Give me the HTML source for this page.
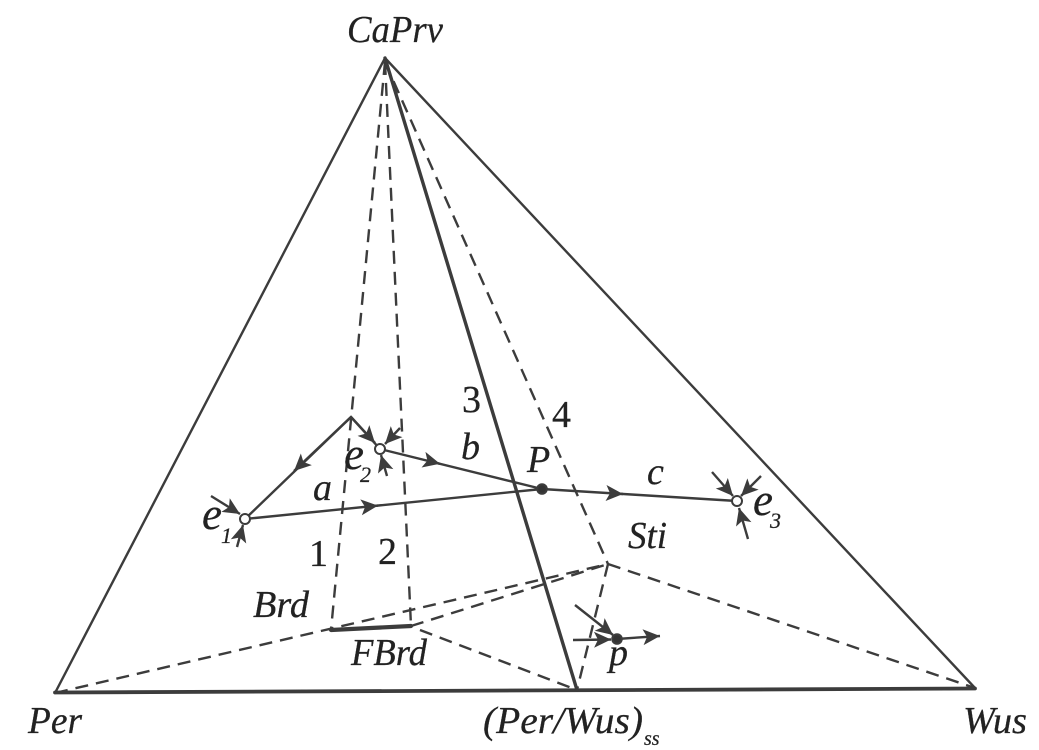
<!DOCTYPE html>
<html>
<head>
<meta charset="utf-8">
<style>
html,body{margin:0;padding:0;background:#fff;}
svg{display:block;filter:blur(0.35px);}
text{font-family:"Liberation Serif",serif;fill:#222;stroke:#222;stroke-width:0.25px;}
.i{font-style:italic;font-size:38px;}
.e{font-style:italic;font-size:45px;}
.n{font-size:38px;}
.s{font-style:italic;font-size:22px;}
</style>
</head>
<body>
<svg width="1039" height="750" viewBox="0 0 1039 750" xmlns="http://www.w3.org/2000/svg">
<defs>
<marker id="a" markerUnits="userSpaceOnUse" markerWidth="24" markerHeight="20" viewBox="-20 -10 24 20" refX="0" refY="0" orient="auto">
<path d="M0,0 L-17,-8 L-13,0 L-17,8 Z" fill="#3c3c3c"/>
</marker>
</defs>

<!-- solid outline -->
<g fill="none" stroke="#3c3c3c" stroke-linecap="round">
<line x1="385" y1="58" x2="55" y2="693" stroke-width="2.4"/>
<line x1="385" y1="58" x2="975" y2="688" stroke-width="2.4"/>
<line x1="55" y1="692.5" x2="975" y2="688.5" stroke-width="3.8"/>
<line x1="385" y1="58" x2="577" y2="690" stroke-width="3.4"/>
<line x1="331" y1="630" x2="411" y2="626" stroke-width="4.2"/>
</g>

<!-- dashed -->
<g fill="none" stroke="#3c3c3c" stroke-width="2.4" stroke-dasharray="13 8">
<line x1="385" y1="62" x2="331" y2="630"/>
<line x1="385" y1="62" x2="411" y2="626"/>
<line x1="385" y1="62" x2="608" y2="564"/>
<line x1="55" y1="693" x2="608" y2="564"/>
<line x1="411" y1="626" x2="608" y2="564"/>
<line x1="420" y1="630" x2="577" y2="690"/>
<line x1="608" y1="564" x2="577" y2="690"/>
<line x1="608" y1="564" x2="975" y2="688"/>
</g>

<!-- path lines -->
<g fill="none" stroke="#3c3c3c" stroke-width="2.4">
<polyline points="245,519 351,417 380,449"/>
<line x1="245" y1="519" x2="542" y2="489"/>
<line x1="380" y1="449" x2="542" y2="489"/>
<line x1="542" y1="489" x2="737" y2="501"/>
<line x1="351" y1="417" x2="294" y2="471" marker-end="url(#a)"/>
<line x1="351" y1="417" x2="375" y2="443" marker-end="url(#a)"/>
<line x1="368" y1="506.6" x2="378" y2="505.6" marker-end="url(#a)"/>
<line x1="430" y1="461.3" x2="440" y2="463.8" marker-end="url(#a)"/>
<line x1="613" y1="493.4" x2="623" y2="494" marker-end="url(#a)"/>
<line x1="211" y1="496" x2="240" y2="514" marker-end="url(#a)"/>
<line x1="237" y1="547" x2="243" y2="525" marker-end="url(#a)"/>
<line x1="400" y1="428" x2="385" y2="444" marker-end="url(#a)"/>
<line x1="387" y1="476" x2="381" y2="455" marker-end="url(#a)"/>
<line x1="712" y1="472" x2="733" y2="496" marker-end="url(#a)"/>
<line x1="761" y1="476" x2="741" y2="496" marker-end="url(#a)"/>
<line x1="748" y1="539" x2="739" y2="508" marker-end="url(#a)"/>
<line x1="575" y1="605" x2="613" y2="635" marker-end="url(#a)"/>
<line x1="573" y1="640" x2="611" y2="639.5" marker-end="url(#a)"/>
<line x1="617" y1="639" x2="660" y2="636" marker-end="url(#a)"/>
</g>

<!-- points -->
<g stroke="#3c3c3c" stroke-width="2">
<circle cx="245" cy="519" r="5" fill="#fff"/>
<circle cx="380" cy="449" r="5" fill="#fff"/>
<circle cx="737" cy="501" r="5" fill="#fff"/>
<circle cx="542" cy="489" r="4.8" fill="#333"/>
<circle cx="617" cy="639" r="4.8" fill="#333"/>
</g>

<!-- labels -->
<text class="i" x="347" y="42" textLength="96" lengthAdjust="spacingAndGlyphs">CaPrv</text>
<text class="i" x="28" y="733" textLength="54" lengthAdjust="spacingAndGlyphs">Per</text>
<text class="i" x="483" y="733" textLength="160" lengthAdjust="spacingAndGlyphs">(Per/Wus)</text>
<text class="s" x="644" y="745" style="font-size:20px">ss</text>
<text class="i" x="963" y="733" textLength="64" lengthAdjust="spacingAndGlyphs">Wus</text>
<text class="i" x="253" y="617" textLength="56" lengthAdjust="spacingAndGlyphs">Brd</text>
<text class="i" x="351" y="665" textLength="76" lengthAdjust="spacingAndGlyphs">FBrd</text>
<text class="i" x="609" y="665">p</text>
<text class="i" x="628" y="548" textLength="39" lengthAdjust="spacingAndGlyphs">Sti</text>
<text class="i" x="527" y="472">P</text>
<text class="i" x="647" y="484">c</text>
<text class="i" x="461" y="459">b</text>
<text class="i" x="313" y="500">a</text>
<text class="e" x="344" y="469">e</text>
<text class="s" x="360" y="482">2</text>
<text class="e" x="202" y="529">e</text>
<text class="s" x="221" y="543">1</text>
<text class="e" x="753" y="515">e</text>
<text class="s" x="770" y="528">3</text>
<text class="n" x="309" y="566">1</text>
<text class="n" x="378" y="564">2</text>
<text class="n" x="462" y="412">3</text>
<text class="n" x="552" y="427">4</text>
</svg>
</body>
</html>
